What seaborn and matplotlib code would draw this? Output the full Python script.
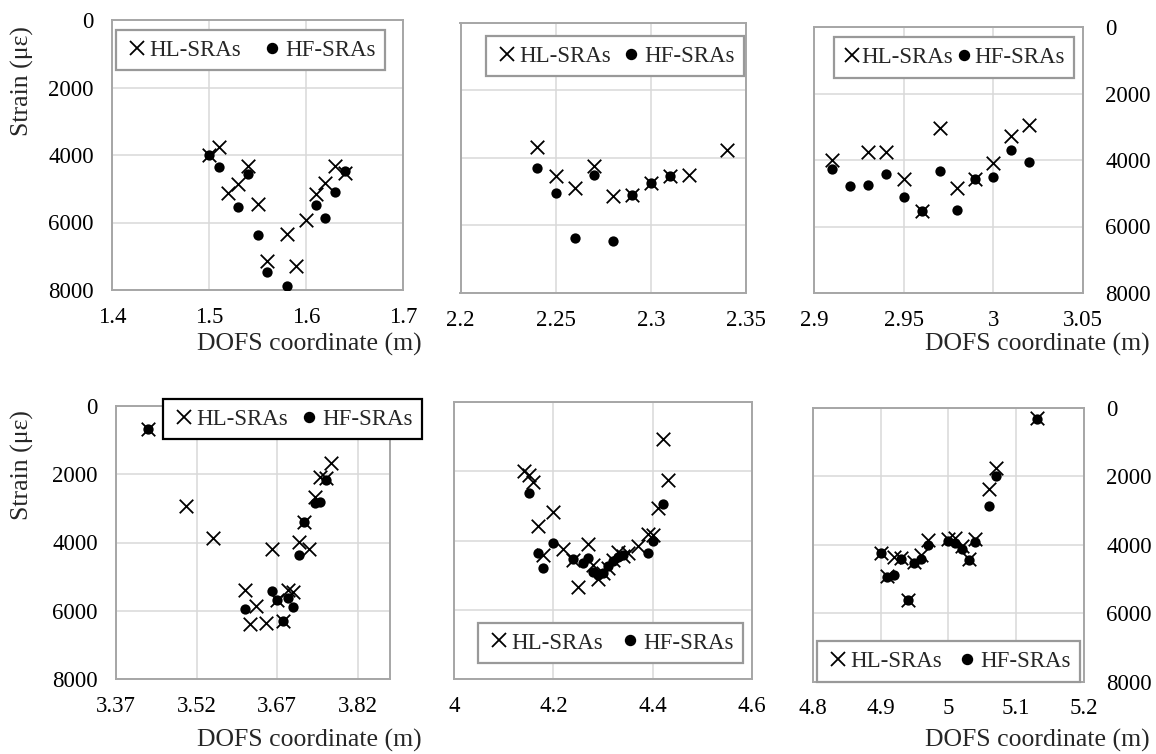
import numpy as np
import pandas as pd
import matplotlib
matplotlib.use("Agg")
import matplotlib.pyplot as plt
from matplotlib.lines import Line2D
import seaborn as sns

# ---------------- data: DOFS coordinate (m) and strain (micro-strain) ----------------
p1_hl_x = [1.50, 1.51, 1.52, 1.53, 1.54, 1.55, 1.56, 1.58, 1.59, 1.60, 1.61, 1.62, 1.63, 1.64]
p1_hl_y = [4000, 3750, 5140, 4870, 4330, 5450, 7140, 6350, 7290, 5930, 5160, 4820, 4330, 4520]
p1_hf_x = [1.50, 1.51, 1.53, 1.54, 1.55, 1.56, 1.58, 1.61, 1.62, 1.63, 1.64]
p1_hf_y = [4000, 4350, 5530, 4560, 6370, 7460, 7880, 5480, 5880, 5090, 4470]

p2_hl_x = [2.24, 2.25, 2.26, 2.27, 2.28, 2.29, 2.30, 2.31, 2.32, 2.34]
p2_hl_y = [3670, 4530, 4900, 4230, 5120, 5090, 4730, 4550, 4520, 3760]
p2_hf_x = [2.24, 2.25, 2.26, 2.27, 2.28, 2.29, 2.30, 2.31]
p2_hf_y = [4310, 5040, 6360, 4520, 6450, 5090, 4730, 4550]

p3_hl_x = [2.91, 2.93, 2.94, 2.95, 2.96, 2.97, 2.98, 2.99, 3.00, 3.01, 3.02]
p3_hl_y = [4000, 3770, 3750, 4580, 5520, 3050, 4830, 4570, 4100, 3280, 2950]
p3_hf_x = [2.91, 2.92, 2.93, 2.94, 2.95, 2.96, 2.97, 2.98, 2.99, 3.00, 3.01, 3.02]
p3_hf_y = [4280, 4770, 4750, 4420, 5100, 5520, 4330, 5500, 4570, 4500, 3700, 4070]

p4_hl_x = [3.43, 3.50, 3.55, 3.61, 3.62, 3.63, 3.65, 3.66, 3.67, 3.68, 3.69, 3.70,
           3.71, 3.72, 3.73, 3.74, 3.75, 3.76, 3.77]
p4_hl_y = [680, 2940, 3860, 5380, 6400, 5870, 6360, 4180, 5690, 6300, 5400, 5450,
           3980, 3390, 4200, 2660, 2080, 2100, 1680]
p4_hf_x = [3.43, 3.61, 3.66, 3.67, 3.68, 3.69, 3.70, 3.71, 3.72, 3.74, 3.75, 3.76]
p4_hf_y = [680, 5960, 5420, 5690, 6300, 5630, 5880, 4370, 3400, 2830, 2800, 2170]

p5_hl_x = [4.14, 4.15, 4.16, 4.17, 4.18, 4.20, 4.22, 4.24, 4.25, 4.27, 4.28, 4.29,
           4.30, 4.31, 4.32, 4.33, 4.34, 4.35, 4.37, 4.39, 4.40, 4.41, 4.42, 4.43]
p5_hl_y = [1990, 2120, 2300, 3590, 4410, 3190, 4250, 4560, 5330, 4110, 4720, 5110,
           4950, 4800, 4550, 4330, 4450, 4360, 4150, 3810, 3850, 3060, 1080, 2240]
p5_hf_x = [4.15, 4.17, 4.18, 4.20, 4.24, 4.26, 4.27, 4.28, 4.29, 4.30, 4.31, 4.32,
           4.33, 4.34, 4.39, 4.40, 4.42]
p5_hf_y = [2620, 4360, 4800, 4060, 4540, 4640, 4510, 4900, 5000, 4930, 4750, 4580,
           4480, 4430, 4360, 4010, 2960]

p6_hl_x = [4.90, 4.91, 4.92, 4.93, 4.94, 4.95, 4.96, 4.97, 5.00, 5.01, 5.02, 5.03,
           5.04, 5.06, 5.07, 5.13]
p6_hl_y = [4230, 4900, 4350, 4400, 5620, 4500, 4300, 3850, 3820, 3800, 4050, 4430,
           3820, 2380, 1750, 310]
p6_hf_x = [4.90, 4.91, 4.92, 4.93, 4.94, 4.95, 4.96, 4.97, 5.00, 5.01, 5.02, 5.03,
           5.04, 5.06, 5.07, 5.13]
p6_hf_y = [4250, 4930, 4880, 4420, 5620, 4520, 4420, 4000, 3880, 3950, 4120, 4450,
           3920, 2870, 2000, 320]

x_ticks = [
    [1.4, 1.5, 1.6, 1.7],
    [2.2, 2.25, 2.3, 2.35],
    [2.9, 2.95, 3.0, 3.05],
    [3.37, 3.52, 3.67, 3.82],
    [4.0, 4.2, 4.4, 4.6],
    [4.8, 4.9, 5.0, 5.1, 5.2],
]
x_limits = [(1.4, 1.7), (2.2, 2.35), (2.9, 3.05), (3.37, 3.88), (4.0, 4.6), (4.8, 5.2)]
y_ticks = [0, 2000, 4000, 6000, 8000]
series_names = ["HL-SRAs", "HF-SRAs"]
x_title = "DOFS coordinate (m)"
y_title = "Strain (\u03bc\u03b5)"

panels = [
    (p1_hl_x, p1_hl_y, p1_hf_x, p1_hf_y),
    (p2_hl_x, p2_hl_y, p2_hf_x, p2_hf_y),
    (p3_hl_x, p3_hl_y, p3_hf_x, p3_hf_y),
    (p4_hl_x, p4_hl_y, p4_hf_x, p4_hf_y),
    (p5_hl_x, p5_hl_y, p5_hf_x, p5_hf_y),
    (p6_hl_x, p6_hl_y, p6_hf_x, p6_hf_y),
]

# ---------------- style ----------------
sns.set_theme(style="whitegrid")
plt.rcParams["font.family"] = ["Liberation Serif", "DejaVu Serif"]

W, H = 1156, 754
fig = plt.figure(figsize=(W / 100, H / 100), dpi=100)

# axes rectangles in pixels: left, top, right, bottom
rects = [
    (112, 20, 403, 290),
    (460.5, 22.7, 746, 293),
    (814, 27, 1083, 293),
    (116, 406, 390, 679),
    (454, 402, 752, 679),
    (812.7, 407.7, 1084, 681.7),
]
# where the y tick labels sit for each panel
ylab_side = ["left", None, "right", "left", None, "right"]
# legend centres (pixels), frame colours and spacing
leg_centres = [(250.5, 50), (615, 56), (954, 57.5), (292.5, 419), (610.5, 643), (948.5, 661.5)]
leg_edges = ["#999999", "#999999", "#999999", "black", "#999999", "#999999"]
leg_colsp = [0.86, 0.38, 0.1, 0.42, 0.69, 0.6]
leg_hlen = [1.0, 1.0, 0.75, 1.0, 1.0, 1.0]

TICK_FS = 16.5
LEG_FS = 16.5
TITLE_FS = 18.5

for i, (hx, hy, fx, fy) in enumerate(panels):
    l, t, r, b = rects[i]
    ax = fig.add_axes([l / W, 1 - b / H, (r - l) / W, (b - t) / H])

    hl = pd.DataFrame({"x": hx, "y": hy})
    hf = pd.DataFrame({"x": fx, "y": fy})
    sns.scatterplot(data=hl, x="x", y="y", marker="x", color="black", s=95,
                    linewidth=1.3, ax=ax, zorder=3, legend=False)
    sns.scatterplot(data=hf, x="x", y="y", marker="o", color="black", s=55,
                    edgecolor="black", linewidth=0, ax=ax, zorder=4, legend=False)

    ax.set_xlim(*x_limits[i])
    ax.set_ylim(8000, 0)
    ax.set_xticks(x_ticks[i])
    ax.set_xticklabels([f"{v:g}" for v in x_ticks[i]])
    ax.set_yticks(y_ticks)
    ax.set_xlabel("")
    ax.set_ylabel("")

    ax.set_facecolor("white")
    ax.grid(True, color="#d9d9d9", linewidth=1.1)
    ax.set_axisbelow(True)
    for sp in ax.spines.values():
        sp.set_visible(True)
        sp.set_color("#a6a6a6")
        sp.set_linewidth(1.4)

    ax.tick_params(axis="x", length=0, pad=12, labelsize=TICK_FS, colors="black")
    side = ylab_side[i]
    if side == "left":
        ax.tick_params(axis="y", length=0, pad=13, labelsize=TICK_FS, colors="black")
    elif side == "right":
        ax.yaxis.tick_right()
        ax.tick_params(axis="y", length=0, pad=16, labelsize=TICK_FS, colors="black")
    else:
        ax.tick_params(axis="y", length=0, labelleft=False, labelright=False)

    handles = [
        Line2D([], [], marker="x", color="black", linestyle="none", markersize=9.5,
               markeredgewidth=1.3),
        Line2D([], [], marker="o", color="black", linestyle="none", markersize=7.2),
    ]
    cx, cy = leg_centres[i]
    leg = ax.legend(handles, series_names, loc="center", ncol=2,
                    bbox_to_anchor=(cx / W, 1 - cy / H), bbox_transform=fig.transFigure,
                    fontsize=LEG_FS, frameon=True, fancybox=False, framealpha=1,
                    edgecolor=leg_edges[i], handlelength=leg_hlen[i], handletextpad=0.05,
                    columnspacing=leg_colsp[i], borderpad=0.42, borderaxespad=0)
    leg.get_frame().set_linewidth(1.6)
    leg.set_zorder(10)

# axis titles
fig.text(22 / W, 1 - 81 / H, y_title, rotation=90, ha="center", va="center",
         fontsize=TITLE_FS)
fig.text(22 / W, 1 - 465 / H, y_title, rotation=90, ha="center", va="center",
         fontsize=TITLE_FS)
fig.text(197 / W, 1 - 344 / H, x_title, ha="left", va="center", fontsize=TITLE_FS)
fig.text(1150 / W, 1 - 344 / H, x_title, ha="right", va="center", fontsize=TITLE_FS)
fig.text(197 / W, 2 / H, x_title, ha="left", va="bottom", fontsize=TITLE_FS)
fig.text(1150 / W, 2 / H, x_title, ha="right", va="bottom", fontsize=TITLE_FS)

fig.savefig("out.png", dpi=100, facecolor="white")
